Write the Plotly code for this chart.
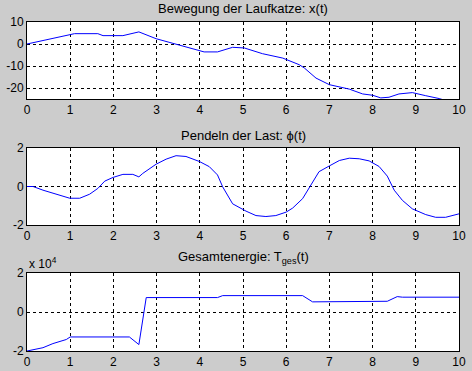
import plotly.graph_objects as go

# --- data ---
t_x = [0, 0.99, 1.1, 1.64, 1.76, 2.22, 2.59, 2.99, 3.3, 3.99, 4.1, 4.41, 4.76, 5.03, 5.45,
       5.92, 6.3, 6.42, 6.69, 7.0, 7.46, 7.77, 8.0, 8.19, 8.38, 8.61, 8.92, 9.23, 9.54, 10.0]
x_vals = [0, 4.2, 4.7, 4.7, 3.8, 3.8, 5.5, 2.4, 0.8, -3.0, -3.6, -3.6, -1.5, -1.8, -4.4,
          -6.4, -9.4, -10.9, -15.5, -18.5, -20.5, -22.7, -23.3, -24.5, -24.2, -22.7, -22.1,
          -23.5, -24.8, -27.5]

t_phi = [0, 0.14, 0.37, 0.68, 0.99, 1.22, 1.45, 1.64, 1.8, 1.99, 2.22, 2.45, 2.59, 2.68,
         2.99, 3.22, 3.45, 3.68, 3.99, 4.22, 4.41, 4.53, 4.76, 5.07, 5.3, 5.53, 5.76, 6.0,
         6.15, 6.38, 6.57, 6.76, 7.0, 7.23, 7.46, 7.69, 7.92, 8.15, 8.34, 8.5, 8.69, 8.92,
         9.23, 9.46, 9.69, 10.0]
phi_vals = [0, 0, -0.19, -0.42, -0.61, -0.61, -0.4, -0.1, 0.28, 0.47, 0.63, 0.63, 0.5, 0.68,
            1.16, 1.42, 1.6, 1.56, 1.3, 1.03, 0.6, -0.02, -0.9, -1.28, -1.51, -1.56, -1.51,
            -1.33, -1.12, -0.63, 0.07, 0.77, 1.07, 1.35, 1.47, 1.44, 1.33, 1.04, 0.54, -0.19,
            -0.72, -1.16, -1.46, -1.6, -1.6, -1.42]

t_e = [0, 0.14, 0.37, 0.6, 0.91, 1.0, 2.37, 2.59, 2.76, 2.8, 4.41, 4.53, 6.38, 6.61, 8.34,
       8.57, 8.69, 10.0]
e_vals = [-20000, -19500, -18300, -16200, -14100, -12800, -12800, -16700, 7400, 7400, 7400,
          8400, 8400, 5200, 5500, 7900, 7600, 7600]

x_ticks = list(range(0, 11))
titles = ["Bewegung der Laufkatze: x(t)", "Pendeln der Last: ϕ(t)",
          "Gesamtenergie: T<sub>ges</sub>(t)"]

W, H = 472, 371
L, R = 27, 459
boxes = [(22, 99), (148, 225), (273, 351)]
title_y = [9, 135, 257]


def dom(top, bot):
    return [1 - bot / H, 1 - top / H]


fig = go.Figure()
series = [(t_x, x_vals), (t_phi, phi_vals), (t_e, e_vals)]
for i, (tt, vv) in enumerate(series):
    sfx = "" if i == 0 else str(i + 1)
    fig.add_trace(go.Scatter(x=tt, y=vv, mode="lines", line=dict(color="#0000ff", width=1),
                             xaxis="x" + sfx, yaxis="y" + sfx, showlegend=False))

font = dict(family="Liberation Sans, Arial, sans-serif", size=12, color="black")
tfont = dict(family="Liberation Sans, Arial, sans-serif", size=13, color="black")
yconf = [
    dict(range=[-25, 10], tickvals=[-20, -10, 0, 10], ticktext=["-20", "-10", "0", "10"]),
    dict(range=[-2, 2], tickvals=[-2, 0, 2], ticktext=["-2", "0", "2"]),
    dict(range=[-20000, 20000], tickvals=[-20000, 0, 20000], ticktext=["-2", "0", "2"]),
]
layout = dict(width=W, height=H, margin=dict(l=L, r=W - R, t=0, b=0),
              paper_bgcolor="#cccccc", plot_bgcolor="white", font=font)
annotations = []
for i in range(3):
    sfx = "" if i == 0 else str(i + 1)
    top, bot = boxes[i]
    common = dict(showline=True, linecolor="black", linewidth=1, mirror=True,
                  showgrid=True, gridcolor="black", griddash="3px,3px", gridwidth=1,
                  zeroline=False, ticks="", tickfont=font, automargin=False)
    layout["xaxis" + sfx] = dict(domain=[0, 1], range=[0, 10], tickvals=x_ticks,
                                 anchor="y" + sfx, **common)
    layout["yaxis" + sfx] = dict(domain=dom(top, bot), anchor="x" + sfx,
                                 **yconf[i], **common)
    annotations.append(dict(text=titles[i], xref="paper", yref="paper", x=0.5,
                            y=1 - title_y[i] / H, xanchor="center", yanchor="middle",
                            showarrow=False, font=tfont))
annotations.append(dict(text="x 10<sup>4</sup>", xref="paper", yref="paper", x=0,
                        y=1 - 273 / H, xanchor="left", yanchor="bottom",
                        showarrow=False, font=font))
layout["annotations"] = annotations
fig.update_layout(**layout)
fig.write_html("out.html")
